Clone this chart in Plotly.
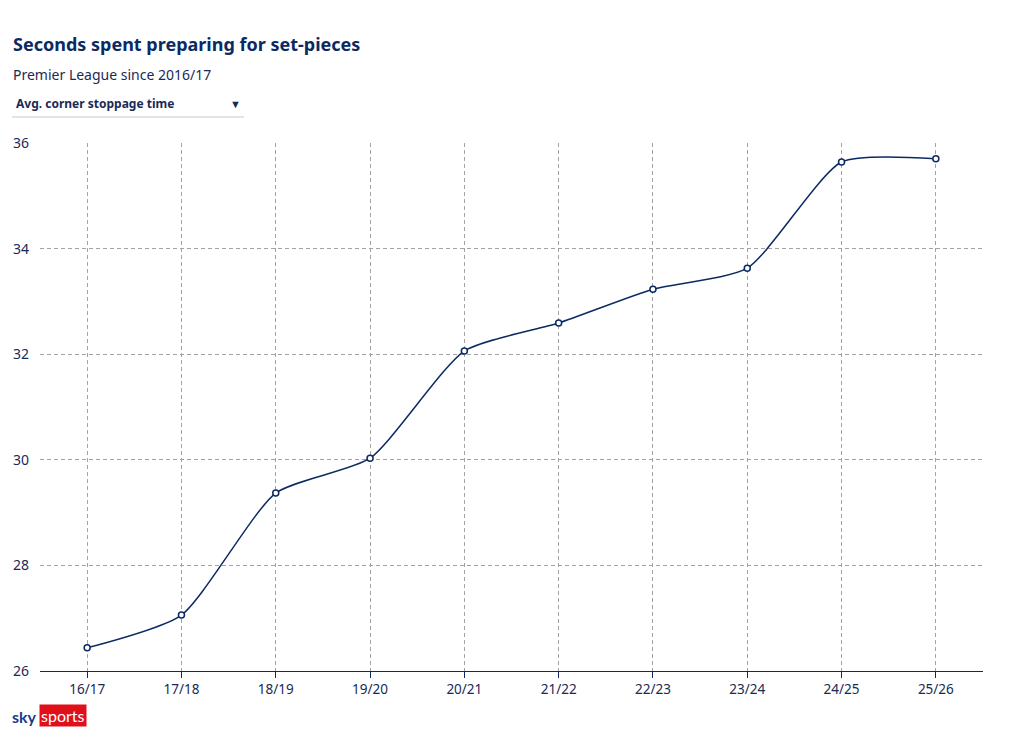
import plotly.graph_objects as go

seasons = ["16/17", "17/18", "18/19", "19/20", "20/21", "21/22", "22/23", "23/24", "24/25", "25/26"]
corner_time = [26.44, 27.06, 29.37, 30.03, 32.06, 32.59, 33.23, 33.63, 35.64, 35.70]
y_ticks = [26, 28, 30, 32, 34, 36]

NAVY = "#0b2a63"
TEXT = "#1b2a55"
GRID = "#a3a3a3"

OFFX, OFFY = 10, 8
W, H = 1004, 725
L, T, B = 42 - OFFX, 143 - OFFY, 741 - OFFY - 671
R = W - L - (985 - 42)
PW, PH = W - L - R, H - T - B


def px(x):
    return (x - OFFX - L) / PW


def py(y):
    return (H - B - (y - OFFY)) / PH


fig = go.Figure()
fig.add_trace(go.Scatter(
    x=seasons, y=corner_time, mode="lines+markers",
    line=dict(color=NAVY, width=1.5, shape="spline", smoothing=0.6),
    marker=dict(size=6, color="white", line=dict(color=NAVY, width=1.5)),
    hoverinfo="x+y", showlegend=False,
))


def ann(text, x, y, size, color=TEXT, xanchor="left", family=None, **kw):
    f = dict(size=size, color=color)
    if family:
        f["family"] = family
    return dict(text=text, x=px(x), y=py(y), xref="paper", yref="paper",
                showarrow=False, xanchor=xanchor, yanchor="middle", font=f, **kw)


fig.update_layout(
    width=W, height=H,
    margin=dict(l=L, r=R, t=T, b=B, autoexpand=False),
    paper_bgcolor="white", plot_bgcolor="white",
    font=dict(family="Noto Sans, Open Sans, sans-serif", color=TEXT, size=13),
    xaxis=dict(
        type="category", range=[-0.5, 9.5],
        showgrid=True, gridcolor=GRID, griddash="4px,3px", gridwidth=1,
        showline=True, linecolor=NAVY, linewidth=1.2,
        ticks="outside", ticklen=6, tickcolor=NAVY,
        tickfont=dict(size=13.5, color=TEXT), zeroline=False,
    ),
    yaxis=dict(
        range=[26, 36], tickvals=y_ticks,
        showgrid=True, gridcolor=GRID, griddash="4px,3px", gridwidth=1,
        showline=False, zeroline=False, ticks="",
        ticklabelstandoff=10,
        tickfont=dict(size=14, color=TEXT),
    ),
    annotations=[
        ann("<b>Seconds spent preparing for set-pieces</b>", 13, 44, 18, color=NAVY),
        ann("Premier League since 2016/17", 13, 74, 14),
        ann("<b>Avg. corner stoppage time</b>", 16, 104, 12),
        ann("▼", 237, 104, 11, xanchor="center"),
        ann("<b>sky</b>", 12, 716, 16, color="#1b3a8a", family="Lato, sans-serif"),
        ann("sports", 41, 715, 16, color="white", family="Lato, sans-serif",
            bgcolor="#e0101a", borderpad=1),
    ],
    shapes=[dict(type="line", xref="paper", yref="paper",
                 x0=px(14), x1=px(246), y0=py(117), y1=py(117),
                 line=dict(color="#c8c8c8", width=1))],
)

fig.write_html("out.html")
